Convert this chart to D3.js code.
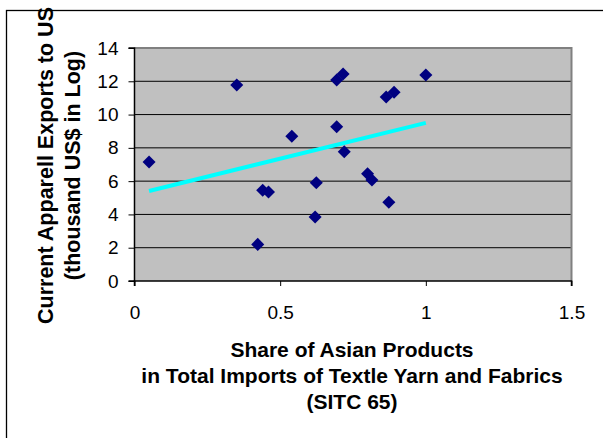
<!DOCTYPE html>
<html><head><meta charset="utf-8">
<script src="https://cdn.jsdelivr.net/npm/d3@7"></script>
<style>
html,body{margin:0;padding:0;background:#fff;}
svg{display:block;font-family:Arial,"Liberation Sans",sans-serif;}
</style></head>
<body>
<svg id="chart" width="603" height="438"></svg>
<script>
const shareX = [0.05, 0.351, 0.423, 0.44, 0.46, 0.54, 0.62, 0.624, 0.694, 0.694, 0.716, 0.72, 0.80, 0.815, 0.864, 0.873, 0.891, 1.0];
const exportsY = [7.15, 11.78, 2.2, 5.45, 5.35, 8.7, 3.85, 5.9, 9.27, 12.08, 12.44, 7.77, 6.45, 6.07, 11.05, 4.73, 11.34, 12.38];
const trendX = [0.05, 1.0];
const trendY = [5.41, 9.5];
const xTicks = [0, 0.5, 1, 1.5];
const yTicks = [0, 2, 4, 6, 8, 10, 12, 14];
const yTitle = ["Current Apparell Exports to US", "(thousand US$ in Log)"];
const xTitle = ["Share of Asian Products", "in Total Imports of Textle Yarn and Fabrics", "(SITC 65)"];

const svg = d3.select("#chart");
const L = 134.5, R = 571.5, T = 48, B = 281;
const x = d3.scaleLinear().domain([0, 1.5]).range([L, R]);
const y = d3.scaleLinear().domain([0, 14]).range([B, T]);
const FF = 'Arial,"Liberation Sans",sans-serif';

// outer frame
svg.append("rect").attr("x", 6.5).attr("y", 10.5).attr("width", 620).attr("height", 450)
  .attr("fill", "none").attr("stroke", "#000").attr("stroke-width", 1.3);

// plot bg
svg.append("rect").attr("x", L).attr("y", T).attr("width", R - L).attr("height", B - T)
  .attr("fill", "#c0c0c0");
// gridlines
svg.append("g").selectAll("line").data(yTicks.filter(d => d > 0 && d < 14)).join("line")
  .attr("x1", L).attr("x2", R).attr("y1", d => y(d)).attr("y2", d => y(d))
  .attr("stroke", "#000").attr("stroke-width", 1);
// plot border top/right gray
svg.append("path").attr("d", `M${L},${T}H${R}V${B}`).attr("fill", "none")
  .attr("stroke", "#808080").attr("stroke-width", 2);

// axes
const yAxis = d3.axisLeft(y).tickValues(yTicks).tickSize(6).tickPadding(10).tickFormat(d3.format("d"));
const gy = svg.append("g").attr("transform", `translate(${L},0)`).call(yAxis);
const xAxis = d3.axisBottom(x).tickValues(xTicks).tickSize(5).tickPadding(20).tickFormat(d => String(d));
const gx = svg.append("g").attr("transform", `translate(0,${B})`).call(xAxis);
[gx, gy].forEach(g => {
  g.attr("font-size", null).attr("font-family", null);
  g.select(".domain").attr("stroke", "#000").attr("stroke-width", 1.5);
  g.selectAll(".tick line").attr("stroke", "#000").attr("stroke-width", 1);
  g.selectAll("text").style("font-size", "19px").attr("fill", "#000").style("font-family", FF);
});
gy.select(".domain").attr("d", `M-6,${T}H0V${B}H-6`);
gx.select(".domain").attr("d", `M${L},5V0H${R}V5`);

// trend line
const line = d3.line().x(d => x(d[0])).y(d => y(d[1]));
svg.append("path").datum(trendX.map((v, i) => [v, trendY[i]]))
  .attr("d", line).attr("stroke", "#00ffff").attr("stroke-width", 4).attr("fill", "none");

// points
const sym = d3.symbol().type(d3.symbolSquare).size(85);
svg.append("g").selectAll("path").data(shareX.map((v, i) => [v, exportsY[i]])).join("path")
  .attr("d", sym)
  .attr("transform", d => `translate(${x(d[0])},${y(d[1])}) rotate(45)`)
  .attr("fill", "#000080");

// y title
const yt = svg.append("text").attr("transform", `translate(0,${(T + B) / 2 + 1}) rotate(-90)`)
  .attr("text-anchor", "middle").attr("font-weight", "bold").style("font-size", "21.5px")
  .style("font-family", FF).attr("fill", "#000");
yTitle.forEach((t, i) => yt.append("tspan").attr("x", 0).attr("y", 53 + i * 27).text(t));

// x title
const xt = svg.append("text").attr("text-anchor", "middle").attr("font-weight", "bold")
  .style("font-size", "21px").style("font-family", FF).attr("fill", "#000");
xTitle.forEach((t, i) => xt.append("tspan").attr("x", (L + R) / 2 - 1).attr("y", 357 + i * 26).text(t));
</script>
</body></html>
